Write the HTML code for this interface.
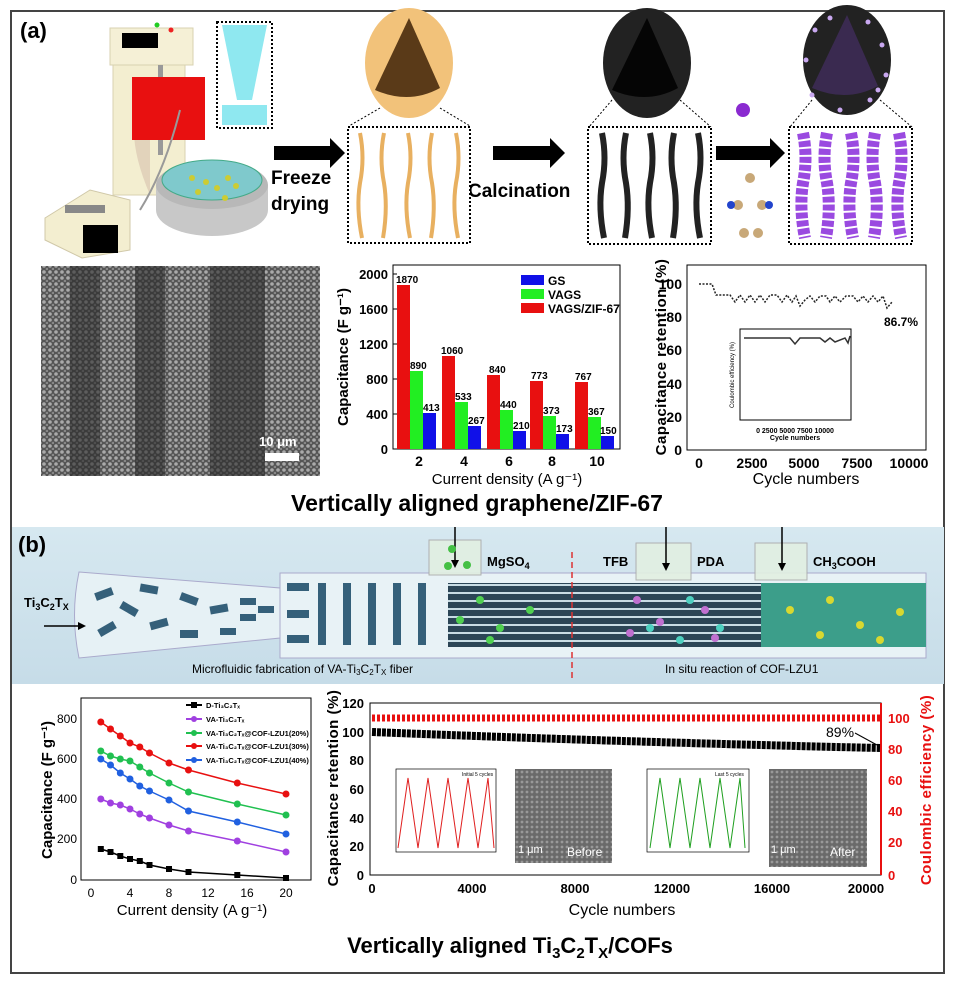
<!DOCTYPE html>
<html><head><meta charset="utf-8"><style>
html,body{margin:0;padding:0;background:#fff}
svg{display:block}
text{font-family:"Liberation Sans",Arial,sans-serif}
</style></head><body>
<svg width="955" height="983" viewBox="0 0 955 983" xmlns="http://www.w3.org/2000/svg">
<defs>
<pattern id="sem" width="6" height="6" patternUnits="userSpaceOnUse"><rect width="6" height="6" fill="#555"/><circle cx="2" cy="2" r="1.8" fill="#aaa"/><circle cx="5" cy="5" r="1.3" fill="#888"/></pattern>
<pattern id="sem2" width="5" height="5" patternUnits="userSpaceOnUse"><rect width="5" height="5" fill="#6a6a6a"/><circle cx="2" cy="2" r="1.4" fill="#999"/></pattern>
<pattern id="dots" width="8" height="8" patternUnits="userSpaceOnUse"><rect width="8" height="8" fill="#2b4556"/><rect x="0" y="0" width="8" height="2" fill="#c8dce4"/></pattern>
<linearGradient id="ban" x1="0" y1="0" x2="0" y2="1"><stop offset="0" stop-color="#d6e8f0"/><stop offset="1" stop-color="#c6dce8"/></linearGradient>
</defs>
<rect x="11" y="11" width="933" height="962" fill="none" stroke="#444" stroke-width="2"/>
<text x="20" y="38" font-size="22" font-weight="bold">(a)</text>

<rect x="113" y="60" width="72" height="135" fill="#f3eed0" stroke="#d8d2b0"/>
<path d="M150 140 L150 90 Q118 120 150 195 Z" fill="#e2d3bb"/>
<rect x="110" y="28" width="83" height="37" fill="#f5f0d6" stroke="#d8d2b0"/>
<rect x="122" y="33" width="36" height="15" fill="#000"/>
<circle cx="157" cy="25" r="2.5" fill="#2c2"/><circle cx="171" cy="30" r="2.5" fill="#e22"/>
<rect x="158" y="65" width="5" height="90" fill="#999"/>
<rect x="132" y="77" width="73" height="63" fill="#e81010"/>
<path d="M180 110 Q165 170 140 210" stroke="#999" stroke-width="2" fill="none"/>
<rect x="217" y="22" width="55" height="106" fill="#fff" stroke="#000" stroke-dasharray="2,2" stroke-width="2"/>
<path d="M222 25 L267 25 L252 100 L237 100 Z" fill="#8fe8f0"/>
<rect x="222" y="105" width="45" height="20" fill="#8fe8f0"/>
<ellipse cx="212" cy="210" rx="56" ry="26" fill="#c8c8c8"/>
<rect x="156" y="185" width="112" height="25" fill="#c8c8c8"/>
<ellipse cx="212" cy="185" rx="56" ry="24" fill="#b8b8b8"/>
<ellipse cx="212" cy="180" rx="50" ry="20" fill="#7fc9cc" stroke="#4a8" />
<g fill="#cc3">
<circle cx="192" cy="178" r="3"/><circle cx="206" cy="182" r="3"/><circle cx="228" cy="178" r="3"/><circle cx="217" cy="188" r="3"/><circle cx="198" cy="192" r="3"/><circle cx="225" cy="198" r="3"/><circle cx="236" cy="186" r="3"/></g>
<path d="M45 218 L90 190 L130 200 L130 250 L82 258 L45 240 Z" fill="#f3eed0" stroke="#d0c8a8"/>
<rect x="83" y="225" width="35" height="28" fill="#000"/>
<rect x="65" y="205" width="40" height="8" fill="#888"/>

<path d="M274 146 L330 146 L330 138 L345 153 L330 168 L330 160 L274 160 Z" fill="#000"/>
<text x="271" y="184" font-size="19" font-weight="bold">Freeze</text>
<text x="271" y="210" font-size="19" font-weight="bold">drying</text>
<path d="M493 146 L550 146 L550 138 L565 153 L550 168 L550 160 L493 160 Z" fill="#000"/>
<text x="468" y="197" font-size="19" font-weight="bold">Calcination</text>
<path d="M716 146 L770 146 L770 138 L785 153 L770 168 L770 160 L716 160 Z" fill="#000"/>

<ellipse cx="409" cy="63" rx="44" ry="55" fill="#f2c27a"/>
<path d="M409 18 L375 90 Q409 105 440 88 Z" fill="#5a3a18"/>
<ellipse cx="647" cy="63" rx="44" ry="55" fill="#222"/>
<path d="M647 18 L612 90 Q647 105 678 88 Z" fill="#050505"/>
<ellipse cx="847" cy="60" rx="44" ry="55" fill="#222"/>
<path d="M847 15 L812 88 Q847 103 878 86 Z" fill="#3a2a50"/>
<g fill="#c9a8f0"><circle cx="815" cy="30" r="2.5"/><circle cx="830" cy="18" r="2.5"/><circle cx="868" cy="22" r="2.5"/><circle cx="882" cy="45" r="2.5"/><circle cx="886" cy="75" r="2.5"/><circle cx="870" cy="100" r="2.5"/><circle cx="840" cy="110" r="2.5"/><circle cx="812" cy="95" r="2.5"/><circle cx="806" cy="60" r="2.5"/><circle cx="878" cy="90" r="2.5"/></g>
<circle cx="743" cy="110" r="7" fill="#8a2ad0"/>
<g stroke="#000" stroke-dasharray="2,2" fill="none">
<path d="M380 108 L349 126 M440 108 L470 126 M612 100 L589 127 M680 100 L711 127 M812 100 L790 127 M880 100 L912 127"/>
</g>
<g stroke="#000" stroke-width="2" stroke-dasharray="2,2" fill="#fff">
<rect x="348" y="127" width="122" height="116"/>
<rect x="588" y="127" width="123" height="117"/>
<rect x="789" y="127" width="123" height="117"/>
</g>
<g stroke="#e8b060" stroke-width="4" fill="none">
<path d="M360 133 q5 25 0 50 q-4 25 2 55"/><path d="M384 133 q-5 25 0 50 q4 25 -1 55"/><path d="M408 133 q5 25 0 50 q-4 25 2 55"/><path d="M432 133 q-5 25 0 50 q4 25 -1 55"/><path d="M456 133 q5 25 0 50 q-4 25 2 55"/>
</g>
<g stroke="#222" stroke-width="6" fill="none">
<path d="M602 133 q5 25 0 50 q-4 25 2 55"/><path d="M626 133 q-5 25 0 50 q4 25 -1 55"/><path d="M650 133 q5 25 0 50 q-4 25 2 55"/><path d="M674 133 q-5 25 0 50 q4 25 -1 55"/><path d="M698 133 q5 25 0 50 q-4 25 2 55"/>
</g>
<g stroke="#9a4ae0" stroke-width="12" fill="none" stroke-dasharray="6,2">
<path d="M803 133 q5 25 0 50 q-4 25 2 55"/><path d="M827 133 q-5 25 0 50 q4 25 -1 55"/><path d="M851 133 q5 25 0 50 q-4 25 2 55"/><path d="M875 133 q-5 25 0 50 q4 25 -1 55"/><path d="M899 133 q5 25 0 50 q-4 25 2 55"/>
</g>
<g fill="#c8a878"><circle cx="750" cy="178" r="5"/><circle cx="738" cy="205" r="5"/><circle cx="762" cy="205" r="5"/><circle cx="744" cy="233" r="5"/><circle cx="758" cy="233" r="5"/></g>
<circle cx="731" cy="205" r="4" fill="#2244cc"/><circle cx="769" cy="205" r="4" fill="#2244cc"/>

<rect x="41" y="266" width="279" height="210" fill="url(#sem)"/>
<rect x="70" y="266" width="30" height="210" fill="#2a2a2a" opacity="0.6"/>
<rect x="135" y="266" width="30" height="210" fill="#2a2a2a" opacity="0.6"/>
<rect x="210" y="266" width="55" height="210" fill="#2a2a2a" opacity="0.6"/>
<text x="259" y="446" font-size="13" font-weight="bold" fill="#fff">10 μm</text>
<rect x="265" y="453" width="34" height="8" fill="#fff"/>

<rect x="393" y="265" width="227" height="184" fill="none" stroke="#000"/>
<g font-size="13" font-weight="bold" text-anchor="end">
<text x="388" y="279">2000</text><text x="388" y="314">1600</text><text x="388" y="349">1200</text><text x="388" y="384">800</text><text x="388" y="419">400</text><text x="388" y="454">0</text></g>
<g stroke="#000"><path d="M393 274h4M393 309h4M393 344h4M393 379h4M393 414h4"/></g>
<text transform="translate(348,357) rotate(-90)" font-size="15" font-weight="bold" text-anchor="middle">Capacitance (F g⁻¹)</text>
<g>
<rect x="397" y="285" width="13" height="164" fill="#e81010"/><rect x="410" y="371" width="13" height="78" fill="#2e2"/><rect x="423" y="413" width="13" height="36" fill="#1010e8"/>
<rect x="442" y="356" width="13" height="93" fill="#e81010"/><rect x="455" y="402" width="13" height="47" fill="#2e2"/><rect x="468" y="426" width="13" height="23" fill="#1010e8"/>
<rect x="487" y="375" width="13" height="74" fill="#e81010"/><rect x="500" y="410" width="13" height="39" fill="#2e2"/><rect x="513" y="431" width="13" height="18" fill="#1010e8"/>
<rect x="530" y="381" width="13" height="68" fill="#e81010"/><rect x="543" y="416" width="13" height="33" fill="#2e2"/><rect x="556" y="434" width="13" height="15" fill="#1010e8"/>
<rect x="575" y="382" width="13" height="67" fill="#e81010"/><rect x="588" y="417" width="13" height="32" fill="#2e2"/><rect x="601" y="436" width="13" height="13" fill="#1010e8"/>
</g>
<g font-size="10" font-weight="bold" font-family="Liberation Serif,serif">
<text x="396" y="283">1870</text><text x="410" y="369">890</text><text x="423" y="411">413</text>
<text x="441" y="354">1060</text><text x="455" y="400">533</text><text x="468" y="424">267</text>
<text x="489" y="373">840</text><text x="500" y="408">440</text><text x="513" y="429">210</text>
<text x="531" y="379">773</text><text x="543" y="414">373</text><text x="556" y="432">173</text>
<text x="575" y="380">767</text><text x="588" y="415">367</text><text x="600" y="434">150</text></g>
<rect x="521" y="275" width="23" height="10" fill="#1010e8"/><text x="548" y="285" font-size="12" font-weight="bold">GS</text>
<rect x="521" y="289" width="23" height="10" fill="#2e2"/><text x="548" y="299" font-size="12" font-weight="bold">VAGS</text>
<rect x="521" y="303" width="23" height="10" fill="#e81010"/><text x="548" y="313" font-size="12" font-weight="bold">VAGS/ZIF-67</text>
<g font-size="14" font-weight="bold" text-anchor="middle"><text x="419" y="466">2</text><text x="464" y="466">4</text><text x="509" y="466">6</text><text x="552" y="466">8</text><text x="597" y="466">10</text></g>
<text x="507" y="484" font-size="15" text-anchor="middle">Current density (A g⁻¹)</text>

<rect x="687" y="265" width="239" height="185" fill="none" stroke="#000"/>
<g font-size="14" font-weight="bold" text-anchor="end"><text x="682" y="289">100</text><text x="682" y="322">80</text><text x="682" y="355">60</text><text x="682" y="389">40</text><text x="682" y="422">20</text><text x="682" y="455">0</text></g>
<text transform="translate(666,357) rotate(-90)" font-size="15" font-weight="bold" text-anchor="middle" letter-spacing="0.5">Capacitance retention (%)</text>
<polyline fill="none" stroke="#222" stroke-width="1.5" stroke-dasharray="2,1.5" points="699,284 712,284 716,295 730,295 735,302 740,295 745,302 750,295 755,302 760,295 765,302 770,295 777,295 782,302 787,295 792,302 796,296 800,306 805,300 810,296 815,302 820,296 826,296 830,302 835,296 840,302 846,296 853,296 858,302 863,296 868,302 873,296 878,302 883,296 887,308 892,302"/>
<text x="884" y="326" font-size="12" font-weight="bold">86.7%</text>
<rect x="740" y="329" width="111" height="91" fill="#fff" stroke="#000"/>
<polyline fill="none" stroke="#333" stroke-width="1.5" points="744,338 790,338 795,344 800,338 820,338 825,342 830,338 835,342 845,338 848,343 850,336"/>
<text transform="translate(734,375) rotate(-90)" font-size="6" text-anchor="middle">Coulombic efficiency (%)</text>
<text x="795" y="433" font-size="7" font-weight="bold" text-anchor="middle">0   2500 5000 7500 10000</text>
<text x="795" y="440" font-size="7" font-weight="bold" text-anchor="middle">Cycle numbers</text>
<g font-size="14" font-weight="bold" text-anchor="middle"><text x="699" y="468">0</text><text x="752" y="468">2500</text><text x="804" y="468">5000</text><text x="857" y="468">7500</text><text x="909" y="468">10000</text></g>
<text x="806" y="484" font-size="16" text-anchor="middle">Cycle numbers</text>

<text x="477" y="511" font-size="23" font-weight="bold" text-anchor="middle">Vertically aligned graphene/ZIF-67</text>

<rect x="12" y="527" width="932" height="157" fill="url(#ban)"/>
<text x="18" y="552" font-size="22" font-weight="bold">(b)</text>
<path d="M79 572 L280 588 L280 638 L79 658 Q70 615 79 572 Z" fill="#e6f1f5" stroke="#aac"/>
<g fill="#35607a">
<rect x="95" y="590" width="18" height="8" transform="rotate(-20 104 594)"/><rect x="120" y="605" width="18" height="8" transform="rotate(30 129 609)"/><rect x="98" y="625" width="18" height="8" transform="rotate(-30 107 629)"/><rect x="140" y="585" width="18" height="8" transform="rotate(10 149 589)"/><rect x="150" y="620" width="18" height="8" transform="rotate(-15 159 624)"/><rect x="180" y="595" width="18" height="8" transform="rotate(20 189 599)"/><rect x="180" y="630" width="18" height="8"/><rect x="210" y="605" width="18" height="8" transform="rotate(-10 219 609)"/><rect x="240" y="598" width="16" height="7"/><rect x="240" y="614" width="16" height="7"/><rect x="258" y="606" width="16" height="7"/><rect x="220" y="628" width="16" height="7"/></g>
<rect x="280" y="573" width="646" height="85" fill="#e8f2f6" stroke="#aac"/>
<g fill="#35607a"><rect x="287" y="583" width="22" height="8"/><rect x="287" y="610" width="22" height="8"/><rect x="287" y="635" width="22" height="8"/>
<rect x="318" y="583" width="8" height="62"/><rect x="343" y="583" width="8" height="62"/><rect x="368" y="583" width="8" height="62"/><rect x="393" y="583" width="8" height="62"/><rect x="418" y="583" width="8" height="62"/></g>
<rect x="448" y="583" width="313" height="64" fill="url(#dots)"/>
<rect x="761" y="583" width="165" height="64" fill="#3c9e8a"/>
<g fill="#50d050"><circle cx="480" cy="600" r="4"/><circle cx="500" cy="628" r="4"/><circle cx="530" cy="610" r="4"/><circle cx="460" cy="620" r="4"/><circle cx="490" cy="640" r="4"/></g>
<g fill="#c070d0"><circle cx="637" cy="600" r="4"/><circle cx="660" cy="622" r="4"/><circle cx="705" cy="610" r="4"/><circle cx="630" cy="633" r="4"/><circle cx="715" cy="638" r="4"/></g>
<g fill="#4ed0c0"><circle cx="690" cy="600" r="4"/><circle cx="720" cy="628" r="4"/><circle cx="650" cy="628" r="4"/><circle cx="680" cy="640" r="4"/></g>
<g fill="#d8d830"><circle cx="790" cy="610" r="4"/><circle cx="830" cy="600" r="4"/><circle cx="860" cy="625" r="4"/><circle cx="900" cy="612" r="4"/><circle cx="880" cy="640" r="4"/><circle cx="820" cy="635" r="4"/></g>
<path d="M572 552 L572 680" stroke="#d33" stroke-dasharray="6,4" stroke-width="1.5"/>
<g fill="#e2efe2" stroke="#aaa" opacity="0.9"><rect x="429" y="540" width="52" height="35"/><rect x="636" y="543" width="55" height="37"/><rect x="755" y="543" width="52" height="37"/></g>
<g stroke="#000" stroke-width="1.5"><path d="M455 527 V562 M666 527 V565 M782 527 V565"/></g>
<g fill="#000"><path d="M451 560 L455 568 L459 560Z M662 563 L666 571 L670 563Z M778 563 L782 571 L786 563Z"/></g>
<g fill="#44c044"><circle cx="452" cy="549" r="4"/><circle cx="448" cy="566" r="4"/><circle cx="467" cy="565" r="4"/></g>
<g font-size="13" font-weight="bold"><text x="487" y="566">MgSO<tspan font-size="9" dy="3">4</tspan></text><text x="603" y="566">TFB</text><text x="697" y="566">PDA</text><text x="813" y="566">CH<tspan font-size="9" dy="3">3</tspan><tspan dy="-3">COOH</tspan></text></g>
<text x="24" y="607" font-size="13" font-weight="bold">Ti<tspan font-size="9" dy="3">3</tspan><tspan dy="-3">C</tspan><tspan font-size="9" dy="3">2</tspan><tspan dy="-3">T</tspan><tspan font-size="9" dy="3">X</tspan></text>
<path d="M44 626 L80 626" stroke="#000" stroke-width="1.5"/><path d="M78 622 L86 626 L78 630Z"/>
<text x="192" y="673" font-size="12">Microfluidic fabrication of VA-Ti<tspan font-size="8" dy="2">3</tspan><tspan dy="-2">C</tspan><tspan font-size="8" dy="2">2</tspan><tspan dy="-2">T</tspan><tspan font-size="8" dy="2">X</tspan><tspan dy="-2"> fiber</tspan></text>
<text x="665" y="673" font-size="12">In situ reaction of COF-LZU1</text>

<rect x="81" y="698" width="230" height="182" fill="none" stroke="#000"/>
<g font-size="12" text-anchor="end"><text x="77" y="723">800</text><text x="77" y="763">600</text><text x="77" y="803">400</text><text x="77" y="843">200</text><text x="77" y="884">0</text></g>
<text transform="translate(52,790) rotate(-90)" font-size="15" font-weight="bold" text-anchor="middle">Capacitance (F g⁻¹)</text>
<g font-size="12" text-anchor="middle"><text x="91" y="897">0</text><text x="130" y="897">4</text><text x="169" y="897">8</text><text x="208" y="897">12</text><text x="247" y="897">16</text><text x="286" y="897">20</text></g>
<text x="192" y="915" font-size="15" text-anchor="middle">Current density (A g⁻¹)</text>
<g fill="none" stroke-width="1.5">
<polyline stroke="#e81010" points="100.8,722 110.5,729 120.3,736 130,743 139.8,747 149.5,753 169,763 188.5,770 237.3,783 286,794"/>
<polyline stroke="#20c050" points="100.8,751 110.5,756 120.3,759 130,761 139.8,767 149.5,773 169,783 188.5,792 237.3,804 286,815"/>
<polyline stroke="#2060e0" points="100.8,759 110.5,765 120.3,773 130,779 139.8,786 149.5,791 169,800 188.5,811 237.3,822 286,834"/>
<polyline stroke="#a040e0" points="100.8,799 110.5,803 120.3,805 130,809 139.8,814 149.5,818 169,825 188.5,831 237.3,841 286,852"/>
<polyline stroke="#000" points="100.8,849 110.5,852 120.3,856 130,859 139.8,861 149.5,865 169,869 188.5,872 237.3,875 286,878"/>
</g>
<g fill="#e81010"><circle cx="100.8" cy="722" r="3.5"/><circle cx="110.5" cy="729" r="3.5"/><circle cx="120.3" cy="736" r="3.5"/><circle cx="130" cy="743" r="3.5"/><circle cx="139.8" cy="747" r="3.5"/><circle cx="149.5" cy="753" r="3.5"/><circle cx="169" cy="763" r="3.5"/><circle cx="188.5" cy="770" r="3.5"/><circle cx="237.3" cy="783" r="3.5"/><circle cx="286" cy="794" r="3.5"/></g>
<g fill="#20c050"><circle cx="100.8" cy="751" r="3.5"/><circle cx="110.5" cy="756" r="3.5"/><circle cx="120.3" cy="759" r="3.5"/><circle cx="130" cy="761" r="3.5"/><circle cx="139.8" cy="767" r="3.5"/><circle cx="149.5" cy="773" r="3.5"/><circle cx="169" cy="783" r="3.5"/><circle cx="188.5" cy="792" r="3.5"/><circle cx="237.3" cy="804" r="3.5"/><circle cx="286" cy="815" r="3.5"/></g>
<g fill="#2060e0"><circle cx="100.8" cy="759" r="3.5"/><circle cx="110.5" cy="765" r="3.5"/><circle cx="120.3" cy="773" r="3.5"/><circle cx="130" cy="779" r="3.5"/><circle cx="139.8" cy="786" r="3.5"/><circle cx="149.5" cy="791" r="3.5"/><circle cx="169" cy="800" r="3.5"/><circle cx="188.5" cy="811" r="3.5"/><circle cx="237.3" cy="822" r="3.5"/><circle cx="286" cy="834" r="3.5"/></g>
<g fill="#a040e0"><circle cx="100.8" cy="799" r="3.5"/><circle cx="110.5" cy="803" r="3.5"/><circle cx="120.3" cy="805" r="3.5"/><circle cx="130" cy="809" r="3.5"/><circle cx="139.8" cy="814" r="3.5"/><circle cx="149.5" cy="818" r="3.5"/><circle cx="169" cy="825" r="3.5"/><circle cx="188.5" cy="831" r="3.5"/><circle cx="237.3" cy="841" r="3.5"/><circle cx="286" cy="852" r="3.5"/></g>
<g fill="#000"><rect x="97.8" y="846" width="6" height="6"/><rect x="107.5" y="849" width="6" height="6"/><rect x="117.3" y="853" width="6" height="6"/><rect x="127" y="856" width="6" height="6"/><rect x="136.8" y="858" width="6" height="6"/><rect x="146.5" y="862" width="6" height="6"/><rect x="166" y="866" width="6" height="6"/><rect x="185.5" y="869" width="6" height="6"/><rect x="234.3" y="872" width="6" height="6"/><rect x="283" y="875" width="6" height="6"/></g>
<g font-size="7.5" font-weight="bold">
<path d="M186 705 h16" stroke="#000" stroke-width="2"/><rect x="191" y="702" width="6" height="6"/><text x="206" y="708">D-Ti₃C₂Tₓ</text>
<path d="M186 719 h16" stroke="#a040e0" stroke-width="2"/><circle cx="194" cy="719" r="3" fill="#a040e0"/><text x="206" y="722">VA-Ti₃C₂Tₓ</text>
<path d="M186 733 h16" stroke="#20c050" stroke-width="2"/><circle cx="194" cy="733" r="3" fill="#20c050"/><text x="206" y="736">VA-Ti₃C₂Tₓ@COF-LZU1(20%)</text>
<path d="M186 746 h16" stroke="#e81010" stroke-width="2"/><circle cx="194" cy="746" r="3" fill="#e81010"/><text x="206" y="749">VA-Ti₃C₂Tₓ@COF-LZU1(30%)</text>
<path d="M186 760 h16" stroke="#2060e0" stroke-width="2"/><circle cx="194" cy="760" r="3" fill="#2060e0"/><text x="206" y="763">VA-Ti₃C₂Tₓ@COF-LZU1(40%)</text>
</g>

<rect x="370" y="703" width="511" height="172" fill="none" stroke="#000"/>
<path d="M881 703 V875" stroke="#e81010" stroke-width="2"/>
<g font-size="13" font-weight="bold" text-anchor="end"><text x="364" y="708">120</text><text x="364" y="737">100</text><text x="364" y="765">80</text><text x="364" y="794">60</text><text x="364" y="823">40</text><text x="364" y="851">20</text><text x="364" y="880">0</text></g>
<g font-size="13" font-weight="bold" fill="#e81010"><text x="888" y="723">100</text><text x="888" y="754">80</text><text x="888" y="785">60</text><text x="888" y="816">40</text><text x="888" y="847">20</text><text x="888" y="880">0</text></g>
<text transform="translate(338,788) rotate(-90)" font-size="15" font-weight="bold" text-anchor="middle" letter-spacing="0.5">Capacitance retention (%)</text>
<text transform="translate(931,790) rotate(-90)" font-size="15" font-weight="bold" text-anchor="middle" fill="#e81010" letter-spacing="0.5">Coulombic efficiency (%)</text>
<path d="M372 718 H880" stroke="#e81010" stroke-width="7" stroke-dasharray="3,2"/>
<path d="M372 732 Q620 742 880 748" stroke="#000" stroke-width="8" fill="none" stroke-dasharray="4,1"/>
<text x="826" y="737" font-size="14">89%</text>
<path d="M855 733 L877 745" stroke="#000"/>
<rect x="396" y="769" width="100" height="83" fill="#fff" stroke="#000" stroke-width="0.7"/>
<polyline fill="none" stroke="#e02020" stroke-width="1" points="398,848 408,778 418,848 428,778 438,848 448,778 458,848 468,778 478,848 488,778 494,848"/>
<text x="462" y="776" font-size="5">Initial 5 cycles</text>
<rect x="515" y="769" width="97" height="94" fill="url(#sem2)"/>
<text x="518" y="853" font-size="11" fill="#fff">1 μm</text><text x="567" y="856" font-size="12" fill="#fff">Before</text>
<rect x="647" y="769" width="102" height="83" fill="#fff" stroke="#000" stroke-width="0.7"/>
<polyline fill="none" stroke="#20a020" stroke-width="1" points="650,848 660,778 670,848 680,778 690,848 700,778 710,848 720,778 730,848 740,778 745,848"/>
<text x="715" y="776" font-size="5">Last 5 cycles</text>
<rect x="769" y="769" width="98" height="98" fill="url(#sem2)"/>
<text x="771" y="853" font-size="11" fill="#fff">1 μm</text><text x="830" y="856" font-size="12" fill="#fff">After</text>
<g font-size="13" font-weight="bold" text-anchor="middle"><text x="372" y="893">0</text><text x="472" y="893">4000</text><text x="575" y="893">8000</text><text x="672" y="893">12000</text><text x="772" y="893">16000</text><text x="866" y="893">20000</text></g>
<text x="622" y="915" font-size="16" text-anchor="middle">Cycle numbers</text>

<text x="510" y="953" font-size="22" font-weight="bold" text-anchor="middle">Vertically aligned Ti<tspan font-size="15" dy="5">3</tspan><tspan dy="-5">C</tspan><tspan font-size="15" dy="5">2</tspan><tspan dy="-5">T</tspan><tspan font-size="15" dy="5">X</tspan><tspan dy="-5">/COFs</tspan></text>
</svg>
</body></html>
